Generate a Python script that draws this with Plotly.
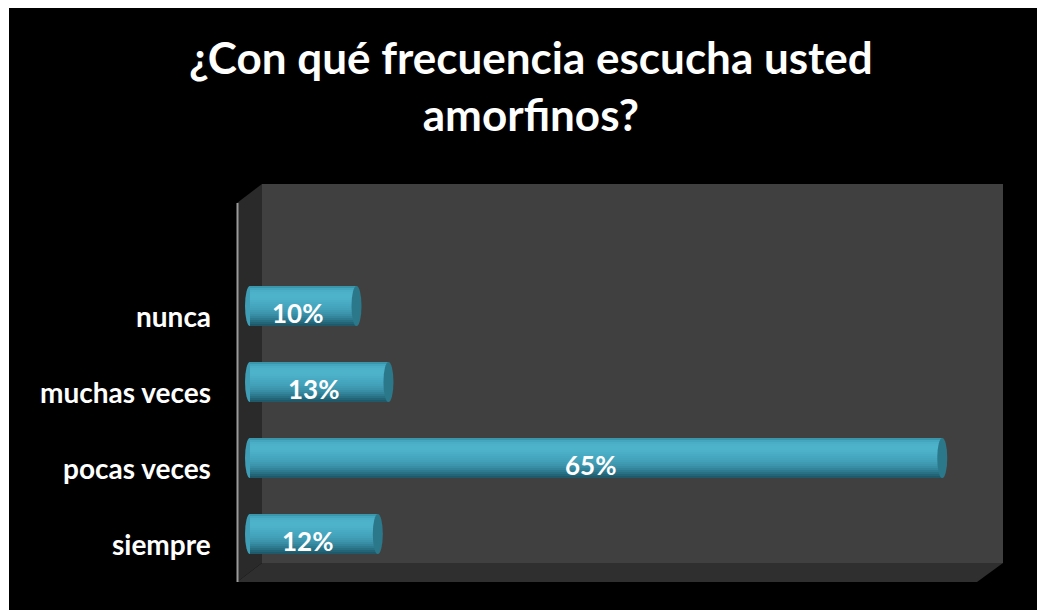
import plotly.graph_objects as go

# ---- data ----
categories = ["siempre", "pocas veces", "muchas veces", "nunca"]
values = [12, 65, 13, 10]
labels = ["12%", "65%", "13%", "10%"]
title_text = "¿Con qué frecuencia escucha usted<br>amorfinos?"

# the page body adds an 8px offset; work in page pixels and convert
OFF = 8
W, H = 1045, 610
L, R, T, B = 237, 1003, 184, 582  # plot area (page px)
pw, ph = R - L, B - T

def px(x):
    return (x - L) / pw

def py(y):
    return (B - y) / ph

FONT = "Lato"
ypos = list(range(len(categories)))

fig = go.Figure()

ppu_y = 76.0
# vertical colour profile of the cylinder (screen px from centre, colour)
profile = [
    (-20, "#3a96ab"), (-18, "#45a7bf"), (-16, "#4aaec6"), (-14, "#4cb1c9"), (-12, "#4db3cb"),
    (-10, "#4db3cb"), (-8, "#4cb1c9"), (-6, "#4aaec6"), (-4, "#48abc3"), (-2, "#46a8c0"),
    (0, "#44a4bc"), (2, "#42a0b8"), (4, "#3f9bb2"), (6, "#3c95ac"), (8, "#388ea4"),
    (10, "#33859b"), (12, "#2e7b90"), (14, "#287084"), (16, "#236577"), (18, "#1f5a6a"),
]
for top, col in profile:
    bot = top + 2
    fig.add_trace(go.Bar(
        y=ypos, x=values, orientation="h", base=0,
        width=(bot - top) / ppu_y, offset=-bot / ppu_y,
        marker=dict(color=col, line=dict(width=0)),
        hoverinfo="skip", showlegend=False,
    ))

shapes = []

def path(pts):
    return "M " + " L ".join(f"{px(a):.5f},{py(b):.5f}" for a, b in pts) + " Z"

# back wall
shapes.append(dict(type="path", xref="paper", yref="paper", path=path([(262, 184), (1003, 184), (1003, 563), (262, 563)]),
                   fillcolor="#404040", line=dict(width=0), layer="below"))
# left wall
shapes.append(dict(type="path", xref="paper", yref="paper", path=path([(237, 203), (262, 184), (262, 563), (237, 582)]),
                   fillcolor="#2a2a2a", line=dict(width=0), layer="below"))
# floor
shapes.append(dict(type="path", xref="paper", yref="paper", path=path([(237, 582), (262, 563), (1003, 563), (977, 582)]),
                   fillcolor="#2f2f2f", line=dict(width=0), layer="below"))
# axis line
shapes.append(dict(type="line", xref="paper", yref="paper", x0=px(237.5), x1=px(237.5), y0=py(203), y1=py(582),
                   line=dict(color="#9a9a9a", width=2), layer="below"))

cap_w = 0.47
half_h = 20 / ppu_y
for i, v in zip(ypos, values):
    shapes.append(dict(type="circle", xref="x", yref="y", x0=-cap_w, x1=cap_w, y0=i - half_h, y1=i + half_h,
                       fillcolor="#3f9db5", line=dict(width=0), layer="below"))
    shapes.append(dict(type="circle", xref="x", yref="y", x0=v - cap_w, x1=v + cap_w, y0=i - half_h, y1=i + half_h,
                       fillcolor="#2c788b", line=dict(width=0), layer="above"))

annotations = []
annotations.append(dict(text=title_text, xref="paper", yref="paper", x=px(531), y=py(86), xanchor="center", yanchor="middle",
                        showarrow=False, font=dict(family=FONT, size=44, color="white", weight="bold")))
for i, c in zip(ypos, categories):
    annotations.append(dict(text=c, xref="paper", yref="y", x=px(213), y=i, yshift=-10, xanchor="right", yanchor="middle",
                            showarrow=False, font=dict(family=FONT, size=28, color="white", weight="bold")))
for i, v, t in zip(ypos, values, labels):
    annotations.append(dict(text=t, xref="x", yref="y", x=v / 2, y=i, yshift=-7, xshift=-6, xanchor="center", yanchor="middle",
                            showarrow=False, font=dict(family=FONT, size=26, color="white", weight="bold")))

k = 10.65
fig.update_layout(
    width=W, height=H,
    margin=dict(l=L - OFF, r=W - R + OFF, t=T - OFF, b=H - B + OFF, pad=0),
    paper_bgcolor="black", plot_bgcolor="rgba(0,0,0,0)",
    barmode="overlay", bargap=0,
    xaxis=dict(range=[(L - 250) / k, (R - 250) / k], visible=False, fixedrange=True),
    yaxis=dict(range=[-(B - 534) / ppu_y, (534 - T) / ppu_y], visible=False, fixedrange=True),
    shapes=shapes, annotations=annotations, showlegend=False,
)
# 1px white strip at the far left, as in the original
fig.add_shape(type="rect", xref="paper", yref="paper", x0=px(0), x1=px(9), y0=py(700), y1=py(-10),
              fillcolor="white", line=dict(width=0), layer="above")

fig.write_html("out.html")
